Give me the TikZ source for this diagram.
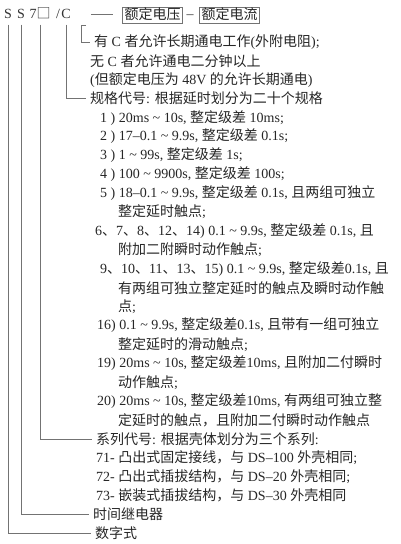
\documentclass[tikz,border=0pt]{standalone}
\usepackage{fontspec}
\setmainfont{Liberation Serif}
\newfontfamily\cjk{Noto Sans CJK SC}
\newcommand\zh[1]{{\cjk #1}}
\newcommand\tld{\textasciitilde}

\begin{document}
\begin{tikzpicture}[x=1pt, y=-1pt,
      txt/.style={anchor=west, inner sep=0pt, font=\fontsize{14}{16}\selectfont, text=black!85},
      code/.style={inner sep=0pt, font=\fontsize{14}{16}\selectfont, text=black!80, text height=9pt, text depth=0pt},
      rating/.style={draw=black!55, line width=0.5pt, fill=white, inner sep=2pt, minimum height=16pt, text height=10.5pt, text depth=1.5pt, font=\fontsize{14}{16}\selectfont, text=black!85},
      lead/.style={draw=black!55, line width=0.6pt, shorten <=6pt, shorten >=4pt}]

      \useasboundingbox (0,0) rectangle (400,544);

      % Model code
      \node[code] (s1) at (8,14) {S};
      \node[code] (s2) at (21,14) {S};
      \node[code] (n7) at (40,14) {7\zh{□}};
      \node[code] (sl) at (58,14) {/};
      \node[code] (cc) at (66,14) {C};
      \node[rating] (rating1) at (152.5,15) {\zh{额定电压}};
      \node[code] (dash) at (190,14) {--};
      \node[rating] (rating2) at (229.5,15) {\zh{额定电流}};

      % Texts
      \node[txt] (withC) at (94,42) {\zh{有} C \zh{者允许长期通电工作}(\zh{外附电阻});};
      \node[txt] (withoutC) at (90,60.9) {\zh{无} C \zh{者允许通电二分钟以上}};
      \node[txt] (ratedNote) at (90,79.8) {(\zh{但额定电压为} 48V \zh{的允许长期通电})};
      \node[txt] (spec) at (90,98.7) {\zh{规格代号}: \zh{根据延时划分为二十个规格}};
      \node[txt] (spec1) at (100,117.6) {1 ) 20ms \tld{} 10s, \zh{整定级差} 10ms;};
      \node[txt] (spec2) at (100,136.5) {2 ) 17--0.1 \tld{} 9.9s, \zh{整定级差} 0.1s;};
      \node[txt] (spec3) at (100,155.4) {3 ) 1 \tld{} 99s, \zh{整定级差} 1s;};
      \node[txt] (spec4) at (100,174.3) {4 ) 100 \tld{} 9900s, \zh{整定级差} 100s;};
      \node[txt] (spec5) at (100,193.2) {5 ) 18--0.1 \tld{} 9.9s, \zh{整定级差} 0.1s, \zh{且两组可独立}};
      \node[txt] (spec5b) at (118,212.1) {\zh{整定延时触点};};
      \node[txt] (spec6) at (95,231) {6\zh{、}7\zh{、}8\zh{、}12\zh{、}14) 0.1 \tld{} 9.9s, \zh{整定级差} 0.1s, \zh{且}};
      \node[txt] (spec6b) at (118,249.9) {\zh{附加二附瞬时动作触点};};
      \node[txt] (spec9) at (100,268.8) {9\zh{、}10\zh{、}11\zh{、}13\zh{、}15) 0.1 \tld{} 9.9s, \zh{整定级差}0.1s, \zh{且}};
      \node[txt] (spec9b) at (118,287.7) {\zh{有两组可独立整定延时的触点及瞬时动作触}};
      \node[txt] (spec9c) at (118,306.6) {\zh{点};};
      \node[txt] (spec16) at (97,325.5) {16) 0.1 \tld{} 9.9s, \zh{整定级差}0.1s, \zh{且带有一组可独立}};
      \node[txt] (spec16b) at (118,344.4) {\zh{整定延时的滑动触点};};
      \node[txt] (spec19) at (97,363.3) {19) 20ms \tld{} 10s, \zh{整定级差}10ms, \zh{且附加二付瞬时}};
      \node[txt] (spec19b) at (118,382.2) {\zh{动作触点};};
      \node[txt] (spec20) at (97,401.1) {20) 20ms \tld{} 10s, \zh{整定级差}10ms, \zh{有两组可独立整}};
      \node[txt] (spec20b) at (118,420) {\zh{定延时的触点，且附加二付瞬时动作触点}};
      \node[txt] (series) at (96,438.9) {\zh{系列代号}: \zh{根据壳体划分为三个系列}:};
      \node[txt] (s71) at (96,457.8) {71- \zh{凸出式固定接线，与} DS--100 \zh{外壳相同};};
      \node[txt] (s72) at (96,476.7) {72- \zh{凸出式插拔结构，与} DS--20 \zh{外壳相同};};
      \node[txt] (s73) at (96,495.6) {73- \zh{嵌装式插拔结构，与} DS--30 \zh{外壳相同}};
      \node[txt] (relay) at (93,514.5) {\zh{时间继电器}};
      \node[txt] (digital) at (95,533.4) {\zh{数字式}};

      % Leaders
      \draw[lead, shorten <=20pt, shorten >=9pt] (cc.east) -- (cc.east -| rating1.west);
      \coordinate (hook) at (81,25);
      \draw[lead, shorten <=0pt] ([xshift=5pt]hook) -- (hook) |- (withC.west);
      \draw[lead] (cc.south) |- (spec.west);
      \draw[lead] (n7.south) |- (series.west);
      \draw[lead] (s2.south) |- (relay.west);
      \draw[lead] (s1.south) |- (digital.west);
    \end{tikzpicture}
\end{document}
